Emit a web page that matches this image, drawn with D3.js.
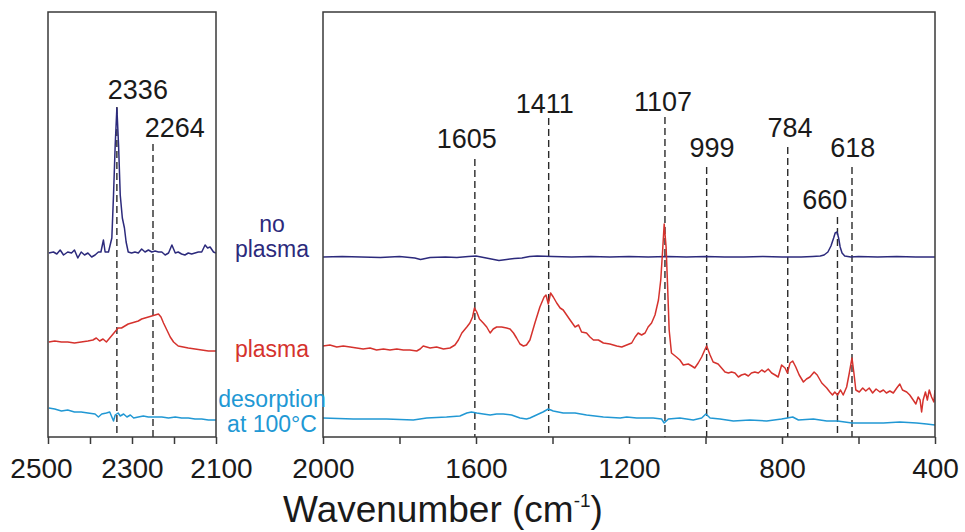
<!DOCTYPE html>
<html>
<head>
<meta charset="utf-8">
<script src="https://cdn.jsdelivr.net/npm/d3@7"></script>
<style>
  body { margin: 0; background: #fff; }
  svg { display: block; font-family: "Liberation Sans", Arial, sans-serif; }
</style>
</head>
<body>
<div class="chart"></div>
<script>
// spectra: [wavenumber (cm-1), absorbance (a.u., offset)]
// CO2 region (2500 - 2100)
const noPlasmaCO2 = [[2498,184],[2487,185],[2479,183],[2471,187],[2463,182],[2453,185],[2444,184],[2437,187],[2429,179],[2421,185],[2413,182],[2405,184],[2396,180],[2388,182],[2380,185],[2374,185],[2368,197],[2364,185],[2356,185],[2348,199],[2344,242],[2340,292],[2336,329],[2332,292],[2328,242],[2323,219],[2318,209],[2314,195],[2309,185],[2301,184],[2293,185],[2285,184],[2277,188],[2269,185],[2261,187],[2253,185],[2245,186],[2237,185],[2229,185],[2221,182],[2213,184],[2205,192],[2197,184],[2190,185],[2182,183],[2174,182],[2166,184],[2158,183],[2150,184],[2142,185],[2134,185],[2126,192],[2120,189],[2114,190],[2106,185],[2100,184]];
const plasmaCO2 = [[2498,95],[2484,96],[2468,95],[2453,95],[2437,94],[2421,95],[2405,96],[2393,97],[2385,99],[2377,96],[2369,98],[2361,95],[2353,99],[2345,103],[2337,107],[2333,109],[2325,109],[2317,111],[2309,113],[2301,114],[2293,115],[2285,116],[2277,118],[2269,119],[2261,120],[2253,121],[2245,122],[2237,123],[2231,120],[2225,114],[2217,107],[2209,100],[2201,95],[2190,91],[2178,90],[2166,89],[2150,88],[2134,87],[2118,86],[2100,86]];
const desorptionCO2 = [[2498,29],[2484,28],[2468,26],[2453,27],[2437,25],[2421,25],[2405,24],[2388,23],[2380,20],[2372,23],[2361,24],[2353,25],[2348,20],[2344,16],[2340,22],[2333,24],[2328,21],[2320,23],[2312,20],[2304,22],[2296,19],[2285,20],[2273,21],[2261,20],[2245,20],[2229,20],[2213,19],[2197,20],[2182,19],[2166,19],[2150,18],[2134,18],[2118,17],[2100,17]];

// fingerprint region (2000 - 400)
const noPlasma = [[2000,180],[1950,180.5],[1900,180],[1850,179.5],[1800,180.5],[1760,179],[1745,177.5],[1720,179.5],[1680,180],[1650,179.5],[1620,180.5],[1600,181],[1580,179.5],[1560,178],[1540,176.5],[1520,177.5],[1500,178.5],[1480,179],[1460,180.5],[1440,181],[1400,180.5],[1350,180],[1300,180.5],[1250,180],[1200,180.5],[1150,180],[1100,180.5],[1050,180],[1000,180.5],[950,180],[900,180],[850,180.5],[800,180],[750,180],[720,180.5],[700,181],[690,182],[680,185],[672,191],[665,199],[661,204],[656,205],[652,199],[648,190],[643,184],[636,181],[620,180],[600,180.5],[550,180],[500,180.5],[450,180],[400,180]];
const plasma = [[2000,91],[1982,92],[1964,90],[1947,91],[1929,90],[1912,89],[1895,88],[1877,89],[1860,87],[1842,88],[1825,87],[1807,88],[1790,87],[1773,87],[1755,86],[1746,88],[1738,91],[1720,89],[1703,90],[1685,88],[1668,89],[1655,92],[1646,97],[1637,104],[1624,110],[1616,114],[1609,120],[1604,129],[1598,125],[1591,118],[1581,114],[1572,110],[1563,104],[1555,108],[1546,110],[1533,110],[1520,109],[1511,108],[1502,104],[1494,99],[1485,93],[1476,91],[1468,92],[1459,97],[1446,114],[1433,130],[1422,140],[1417,142],[1411,133],[1405,144],[1398,140],[1389,134],[1380,129],[1372,127],[1363,122],[1354,117],[1341,110],[1332,112],[1324,105],[1311,104],[1302,100],[1293,97],[1280,97],[1267,94],[1250,93],[1232,91],[1219,90],[1206,92],[1193,94],[1184,100],[1176,104],[1167,102],[1158,104],[1150,110],[1141,114],[1132,122],[1123,137],[1117,157],[1112,187],[1108,213],[1103,190],[1099,150],[1095,107],[1089,84],[1076,80],[1067,77],[1058,72],[1045,73],[1036,71],[1028,69],[1019,74],[1010,80],[1002,87],[997,91],[988,82],[980,75],[967,73],[958,69],[949,65],[940,64],[932,65],[923,64],[914,60],[906,62],[897,63],[888,61],[880,64],[871,65],[862,64],[853,67],[845,65],[836,68],[827,64],[818,62],[810,60],[801,72],[792,69],[786,64],[779,74],[772,76],[764,70],[755,62],[744,55],[736,58],[727,60],[716,65],[708,62],[696,54],[683,49],[675,45],[668,42],[662,45],[655,42],[647,47],[640,42],[631,50],[624,64],[617,79],[612,64],[607,47],[598,45],[589,49],[581,46],[572,49],[563,44],[554,48],[544,45],[535,47],[527,44],[518,46],[509,44],[500,49],[492,53],[485,47],[474,45],[466,42],[457,37],[450,33],[444,40],[439,37],[435,25],[431,37],[425,45],[420,37],[415,47],[409,40],[403,35],[400,47]];
const desorption = [[2000,19],[1921,18],[1834,18],[1764,17],[1729,19],[1677,20],[1642,21],[1624,24],[1612,25],[1598,24],[1581,23],[1563,22],[1546,23],[1529,23],[1507,22],[1485,19],[1468,18],[1459,19],[1442,22],[1425,25],[1411,28],[1398,26],[1372,24],[1341,24],[1311,22],[1267,20],[1223,19],[1206,20],[1180,19],[1137,19],[1115,18],[1108,14],[1097,18],[1067,19],[1032,17],[1010,19],[999,23],[988,19],[962,18],[927,16],[884,17],[840,16],[801,18],[786,19],[772,20],[757,17],[718,18],[683,16],[655,16],[617,14],[579,14],[535,14],[492,15],[448,14],[422,13],[400,12]];

// axis ticks
const leftTicks = [2500, 2400, 2300, 2200, 2100];
const leftTickLabels = [2500, 2300, 2100];
const rightTicks = [2000, 1800, 1600, 1400, 1200, 1000, 800, 600, 400];
const rightTickLabels = [2000, 1600, 1200, 800, 400];

// peak marks: label, line position, label centre (cm-1), label baseline / line top (a.u.)
const leftPeaks = [
    { text: "2336", at: 2336, labelAt: 2286, labelY: 338, top: 330 },
    { text: "2264", at: 2250, labelAt: 2198, labelY: 300, top: 293 }
];
const rightPeaks = [
    { text: "1605", at: 1603, labelAt: 1624, labelY: 289, top: 278 },
    { text: "1411", at: 1410, labelAt: 1420, labelY: 324, top: 319 },
    { text: "1107", at: 1106, labelAt: 1111, labelY: 326, top: 320 },
    { text: "999", at: 997, labelAt: 983, labelY: 280, top: 270 },
    { text: "784", at: 785, labelAt: 779, labelY: 300, top: 290 },
    { text: "660", at: 655, labelAt: 688, labelY: 228, top: 220 },
    { text: "618", at: 617, labelAt: 615, labelY: 280, top: 270 }
];

const seriesNames = [["no", "plasma"], ["plasma"], ["desorption", "at 100\u00B0C"]];
const colors = ["#2c2a7c", "#d5322d", "#2198d4"];

// size
const w = 965, h = 532;
const plotTop = 12, plotBottom = 437;
// small nudges of the outer tick labels, as in the figure
const labelShift = { 2500: -7, 2100: 5 };

const svg = d3.select("div.chart")
    .append("svg")
    .attr("width", w)
    .attr("height", h);

const yScale = d3.scaleLinear()
    .domain([0, 425])
    .range([plotBottom, plotTop]);

function panel(id, x0, x1, domain, series, ticks, tickLabels, peaks) {
    const xScale = d3.scaleLinear().domain(domain).range([x0, x1]);

    svg.append("clipPath").attr("id", id)
        .append("rect")
        .attr("x", x0).attr("y", plotTop)
        .attr("width", x1 - x0).attr("height", plotBottom - plotTop);

    // dashed peak lines
    svg.append("g")
        .selectAll("line")
        .data(peaks)
        .enter()
        .append("line")
        .attr("x1", d => xScale(d.at))
        .attr("x2", d => xScale(d.at))
        .attr("y1", d => yScale(d.top))
        .attr("y2", plotBottom)
        .attr("stroke", "#2a2a2a")
        .attr("stroke-width", 1.4)
        .attr("stroke-dasharray", "7,4");

    // spectra
    const line = d3.line()
        .x(d => xScale(d[0]))
        .y(d => yScale(d[1]));

    svg.append("g")
        .attr("clip-path", "url(#" + id + ")")
        .selectAll("path")
        .data(series)
        .enter()
        .append("path")
        .attr("d", line)
        .attr("fill", "none")
        .attr("stroke", (d, i) => colors[i])
        .attr("stroke-width", 1.5)
        .attr("stroke-linejoin", "round");

    // peak labels
    svg.append("g")
        .selectAll("text")
        .data(peaks)
        .enter()
        .append("text")
        .attr("x", d => xScale(d.labelAt))
        .attr("y", d => yScale(d.labelY))
        .attr("text-anchor", "middle")
        .attr("font-size", 27)
        .attr("fill", "#1a1a1a")
        .text(d => d.text);

    // frame
    svg.append("rect")
        .attr("x", x0).attr("y", plotTop)
        .attr("width", x1 - x0).attr("height", plotBottom - plotTop)
        .attr("fill", "none")
        .attr("stroke", "#3a3a3a")
        .attr("stroke-width", 1.5);

    // x axis
    const xAxis = d3.axisBottom(xScale)
        .tickValues(ticks)
        .tickSize(7)
        .tickPadding(14)
        .tickFormat(d => tickLabels.includes(d) ? d : "");
    const g = svg.append("g")
        .attr("transform", "translate(0," + plotBottom + ")")
        .call(xAxis);
    g.select(".domain").remove();
    g.selectAll(".tick line").attr("stroke", "#3a3a3a").attr("stroke-width", 1.5);
    g.selectAll(".tick text")
        .attr("font-size", 28)
        .attr("font-family", "Liberation Sans, Arial, sans-serif")
        .attr("fill", "#1a1a1a")
        .attr("dx", d => labelShift[d] || 0);
}

panel("clipL", 48, 216, [2500, 2100], [noPlasmaCO2, plasmaCO2, desorptionCO2], leftTicks, leftTickLabels, leftPeaks);
panel("clipR", 323, 935, [2000, 400], [noPlasma, plasma, desorption], rightTicks, rightTickLabels, rightPeaks);

// series names between the panels
const nameY = [232, 357, 407];
seriesNames.forEach((lines, i) => {
    const t = svg.append("text")
        .attr("x", 272)
        .attr("y", nameY[i])
        .attr("text-anchor", "middle")
        .attr("font-size", 23)
        .attr("fill", colors[i]);
    lines.forEach((s, j) => {
        t.append("tspan").attr("x", 272).attr("dy", j ? 25 : 0).text(s);
    });
});

// axis title
const title = svg.append("text")
    .attr("x", 443)
    .attr("y", 522)
    .attr("text-anchor", "middle")
    .attr("font-size", 37)
    .attr("fill", "#1a1a1a");
title.append("tspan").text("Wavenumber (cm");
title.append("tspan").attr("font-size", 19).attr("dy", -15).text("-1");
title.append("tspan").attr("dy", 15).text(")");
</script>
</body>
</html>
